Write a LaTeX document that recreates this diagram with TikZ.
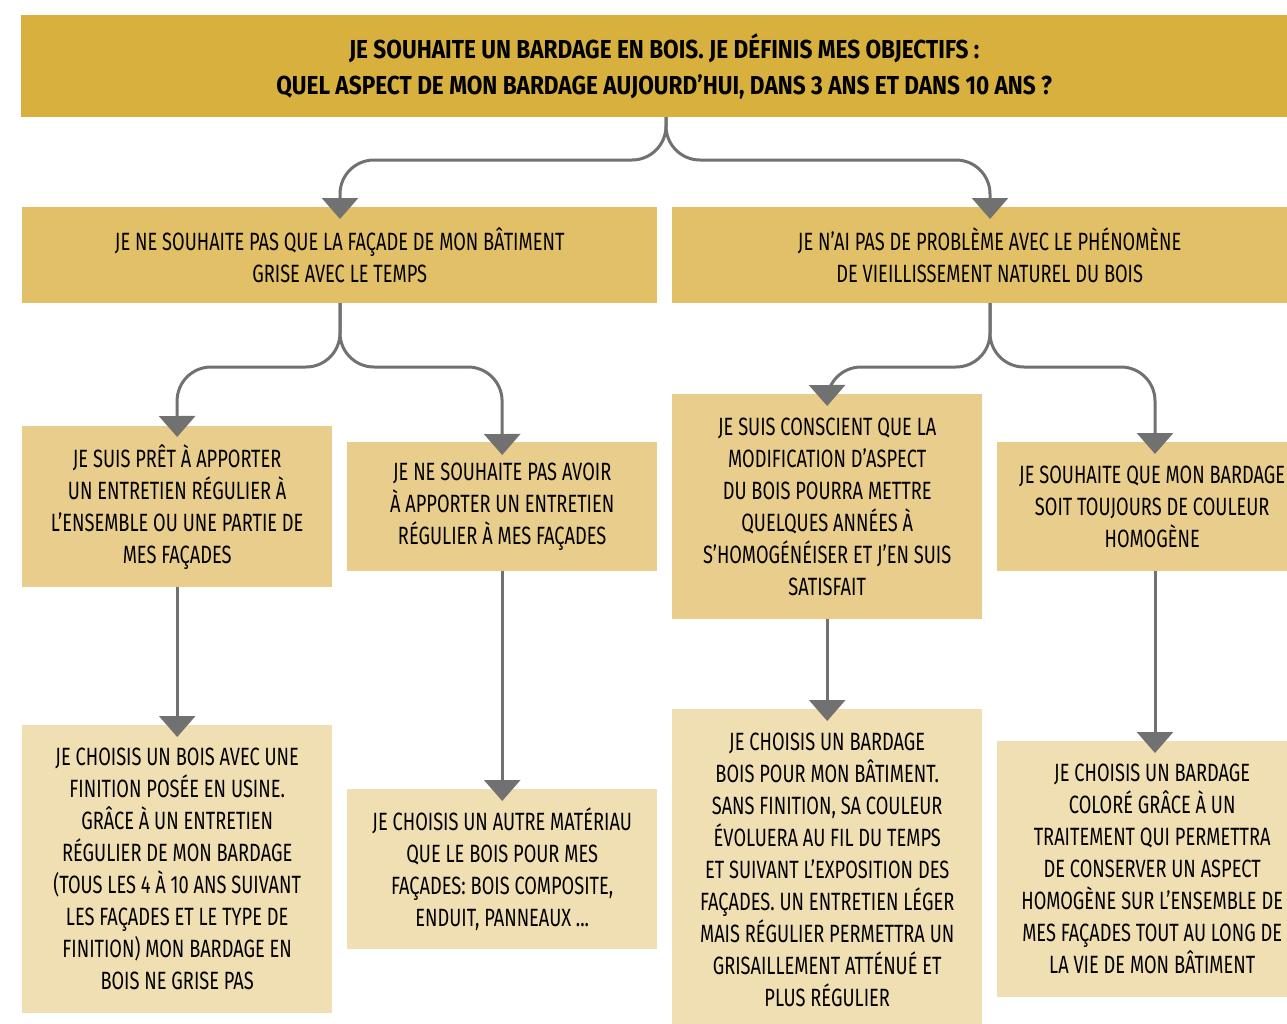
\documentclass[tikz,border=0pt]{standalone}
\usepackage{fontspec}
\setmainfont{Fira Sans}[FakeStretch=0.73]
\newfontfamily\titlefont{Fira Sans}[FakeStretch=0.87]
\usetikzlibrary{arrows.meta}
\definecolor{cA}{HTML}{D8B03D}
\definecolor{cB}{HTML}{E2C067}
\definecolor{cC}{HTML}{E8CD8C}
\definecolor{cD}{HTML}{F0DFB2}
\definecolor{cline}{HTML}{717171}
\tikzset{
  box/.style={rectangle, inner sep=0pt, anchor=north west, align=flush center, text=black,
    font=\fontsize{25}{32}\selectfont},
  smallbox/.style={box, minimum width=310pt, text width=310pt},
  conn/.style={draw=cline, line width=3pt, rounded corners=34pt,
    -{Triangle[width=36pt,length=21pt]}},
}
\begin{document}
\begin{tikzpicture}[x=1pt,y=-1pt]
\useasboundingbox (0,0) rectangle (1287,1023);
\clip (0,0) rectangle (1287,1023);
\fill[white] (0,0) rectangle (1287,1023);
% level 1
\node[box, fill=cA, minimum width=1286pt, minimum height=102pt, text width=1286pt,
  font=\titlefont\bfseries\fontsize{26}{36}\selectfont] (top) at (21,15)
  {JE SOUHAITE UN BARDAGE EN BOIS. JE DÉFINIS MES OBJECTIFS :\\
   QUEL ASPECT DE MON BARDAGE AUJOURD’HUI, DANS 3 ANS ET DANS 10 ANS ?};
% level 2
\node[box, fill=cB, minimum width=635pt, minimum height=96pt, text width=635pt] (l2a) at (22,207)
  {JE NE SOUHAITE PAS QUE LA FAÇADE DE MON BÂTIMENT\\GRISE AVEC LE TEMPS};
\node[box, fill=cB, minimum width=635pt, minimum height=96pt, text width=635pt] (l2b) at (672,207)
  {JE N’AI PAS DE PROBLÈME AVEC LE PHÉNOMÈNE\\DE VIEILLISSEMENT NATUREL DU BOIS};
% level 3
\node[smallbox, fill=cC, minimum height=161pt] (l3a) at (22,426)
  {JE SUIS PRÊT À APPORTER\\UN ENTRETIEN RÉGULIER À\\L’ENSEMBLE OU UNE PARTIE DE\\MES FAÇADES};
\node[smallbox, fill=cC, minimum height=129pt] (l3b) at (347,442)
  {JE NE SOUHAITE PAS AVOIR\\À APPORTER UN ENTRETIEN\\RÉGULIER À MES FAÇADES};
\node[smallbox, fill=cC, minimum height=225pt] (l3c) at (672,394)
  {JE SUIS CONSCIENT QUE LA\\MODIFICATION D’ASPECT\\DU BOIS POURRA METTRE\\QUELQUES ANNÉES À\\S’HOMOGÉNÉISER ET J’EN SUIS\\SATISFAIT};
\node[smallbox, fill=cC, minimum height=129pt] (l3d) at (997,442)
  {JE SOUHAITE QUE MON BARDAGE\\SOIT TOUJOURS DE COULEUR\\HOMOGÈNE};
% level 4
\node[smallbox, fill=cD, minimum height=288pt] (l4a) at (22,725)
  {JE CHOISIS UN BOIS AVEC UNE\\FINITION POSÉE EN USINE.\\GRÂCE À UN ENTRETIEN\\RÉGULIER DE MON BARDAGE\\(TOUS LES 4 À 10 ANS SUIVANT\\LES FAÇADES ET LE TYPE DE\\FINITION) MON BARDAGE EN\\BOIS NE GRISE PAS};
\node[smallbox, fill=cD, minimum height=160pt] (l4b) at (347,789)
  {JE CHOISIS UN AUTRE MATÉRIAU\\QUE LE BOIS POUR MES\\FAÇADES: BOIS COMPOSITE,\\ENDUIT, PANNEAUX ...};
\node[smallbox, fill=cD, minimum height=322pt] (l4c) at (672,709)
  {JE CHOISIS UN BARDAGE\\BOIS POUR MON BÂTIMENT.\\SANS FINITION, SA COULEUR\\ÉVOLUERA AU FIL DU TEMPS\\ET SUIVANT L’EXPOSITION DES\\FAÇADES. UN ENTRETIEN LÉGER\\MAIS RÉGULIER PERMETTRA UN\\GRISAILLEMENT ATTÉNUÉ ET\\PLUS RÉGULIER};
\node[smallbox, fill=cD, minimum height=256pt] (l4d) at (997,741)
  {JE CHOISIS UN BARDAGE\\COLORÉ GRÂCE À UN\\TRAITEMENT QUI PERMETTRA\\DE CONSERVER UN ASPECT\\HOMOGÈNE SUR L’ENSEMBLE DE\\MES FAÇADES TOUT AU LONG DE\\LA VIE DE MON BÂTIMENT};
% connectors level 1 -> 2
\coordinate (j1) at (666,117);
\draw[conn] (j1) -- (666,160) -- (340,160) -- ([yshift=-12pt]l2a.north -| 340,0);
\draw[conn] (j1) -- (666,160) -- (990,160) -- ([yshift=-12pt]l2b.north -| 990,0);
% level 2 -> 3
\coordinate (j2) at (340,303);
\draw[conn] (j2) -- (340,367) -- (177,367) -- ([yshift=-11pt]l3a.north);
\draw[conn] (j2) -- (340,367) -- (502,367) -- ([yshift=-13pt]l3b.north);
\coordinate (j3) at (990,303);
\draw[conn] (j3) -- (990,367) -- (827,367) -- ([yshift=-12pt]l3c.north);
\draw[conn] (j3) -- (990,367) -- (1155,367) -- ([yshift=-12pt]l3d.north -| 1155,0);
% level 3 -> 4
\draw[conn] (l3a.south) -- ([yshift=-12pt]l4a.north);
\draw[conn] (l3b.south) -- ([yshift=-12pt]l4b.north);
\draw[conn] (l3c.south) -- ([yshift=-12pt]l4c.north);
\draw[conn] (l3d.south -| 1155,0) -- ([yshift=-12pt]l4d.north -| 1155,0);
\end{tikzpicture}
\end{document}
